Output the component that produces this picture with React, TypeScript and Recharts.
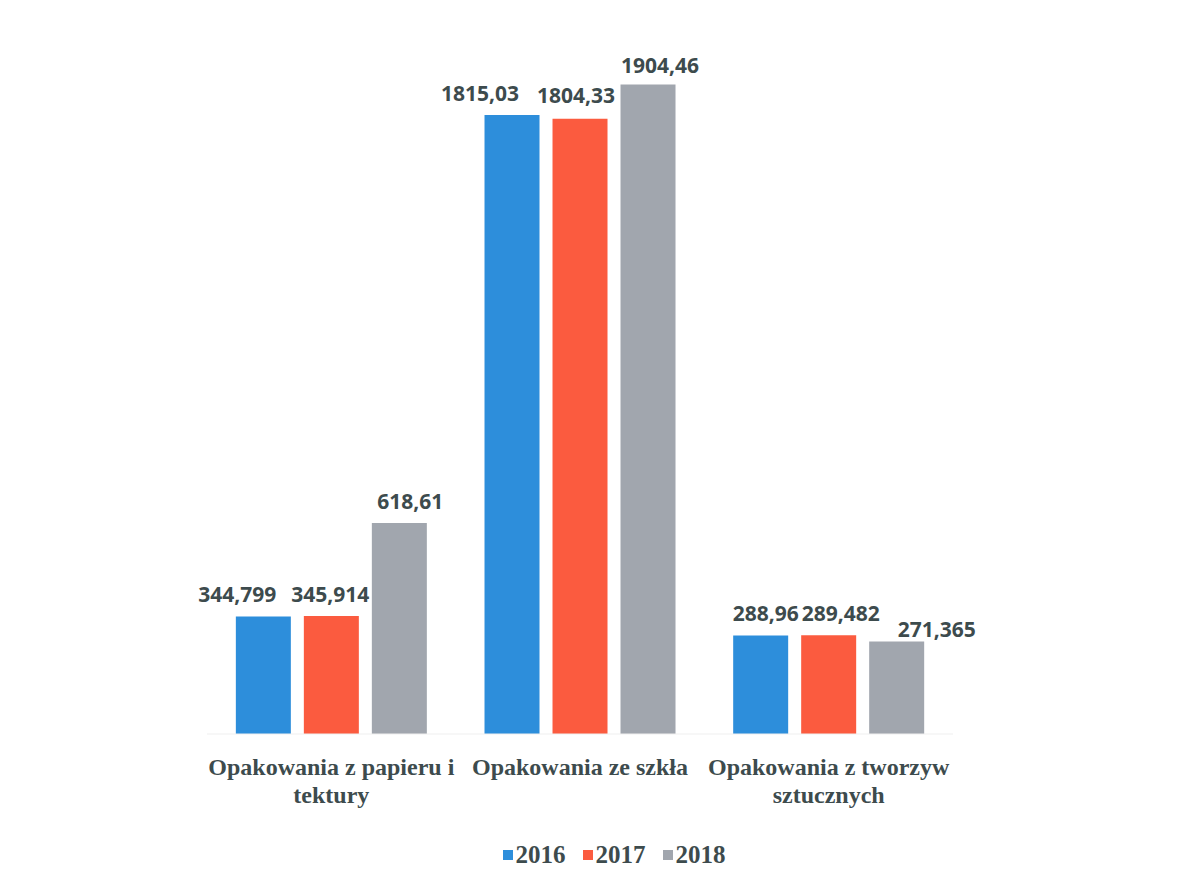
import React from 'react';
import { BarChart, Bar, XAxis, YAxis, LabelList } from 'recharts';

const categories = ['Opakowania z papieru i tektury', 'Opakowania ze szkła', 'Opakowania z tworzyw sztucznych'];
const categoryLines = [['Opakowania z papieru i', 'tektury'], ['Opakowania ze szkła'], ['Opakowania z tworzyw', 'sztucznych']];
const years = ['2016', '2017', '2018'];
const values2016 = [344.799, 1815.03, 288.96];
const values2017 = [345.914, 1804.33, 289.482];
const values2018 = [618.61, 1904.46, 271.365];
const labels2016 = ['344,799', '1815,03', '288,96'];
const labels2017 = ['345,914', '1804,33', '289,482'];
const labels2018 = ['618,61', '1904,46', '271,365'];

const colors = ['#2d8edb', '#fb5b3f', '#a1a6ae'];
const textColor = '#3d4b4d';
// hand-placed label shifts, as in the original (per series, per category)
const labelNudgeX = [[-26, -32, 5], [-1, -4, 12], [11, 12, 40]];
const labelNudgeY = [[0, 0, 0], [0, -2, 0], [0, 2, 10]];

const data = categories.map((name, i) => ({
  name,
  y2016: values2016[i],
  y2017: values2017[i],
  y2018: values2018[i],
  l2016: labels2016[i],
  l2017: labels2017[i],
  l2018: labels2018[i],
}));

const CategoryTick = (props: any) => {
  const { x, y, index } = props;
  const lines = categoryLines[index] || [];
  return (
    <text
      x={x}
      y={y}
      textAnchor="middle"
      style={{ fontFamily: '"Liberation Serif", serif', fontWeight: 700, fontSize: 24, fill: textColor }}
    >
      {lines.map((ln, i) => (
        <tspan key={i} x={x} y={y + 33 + i * 28}>
          {ln}
        </tspan>
      ))}
    </text>
  );
};

const makeLabel = (s: number) => (props: any) => {
  const { x, y, width, value, index } = props;
  return (
    <text
      x={x + width / 2 + labelNudgeX[s][index]}
      y={y - 14 + labelNudgeY[s][index]}
      textAnchor="middle"
      style={{ fontFamily: '"Open Sans", "Noto Sans", sans-serif', fontWeight: 700, fontSize: 21, fill: textColor }}
    >
      {value}
    </text>
  );
};

export default function App() {
  return (
    <div style={{ position: 'absolute', left: 0, top: 0, width: 1200, height: 884, background: '#fff' }}>
      <BarChart
        width={1200}
        height={884}
        data={data}
        margin={{ top: 52, right: 247, left: 207, bottom: 0 }}
        barCategoryGap="11.6%"
        barGap={13}
      >
        <XAxis
          dataKey="name"
          axisLine={{ stroke: '#efefef' }}
          tickLine={false}
          tick={<CategoryTick />}
          interval={0}
          height={150}
        />
        <YAxis hide domain={[0, 2000]} />
        {years.map((yr, i) => (
          <Bar key={yr} dataKey={`y${yr}`} name={yr} fill={colors[i]} isAnimationActive={false}>
            <LabelList dataKey={`l${yr}`} content={makeLabel(i)} />
          </Bar>
        ))}
      </BarChart>
      <div
        style={{
          position: 'absolute',
          top: 841,
          left: 0,
          width: 1228,
          display: 'flex',
          justifyContent: 'center',
          gap: 17,
          fontFamily: '"Liberation Serif", serif',
          fontWeight: 700,
          fontSize: 25,
          color: textColor,
        }}
      >
        {years.map((yr, i) => (
          <div key={yr} style={{ display: 'flex', alignItems: 'center', gap: 3 }}>
            <span style={{ width: 10, height: 10, background: colors[i], display: 'inline-block' }} />
            <span>{yr}</span>
          </div>
        ))}
      </div>
    </div>
  );
}
